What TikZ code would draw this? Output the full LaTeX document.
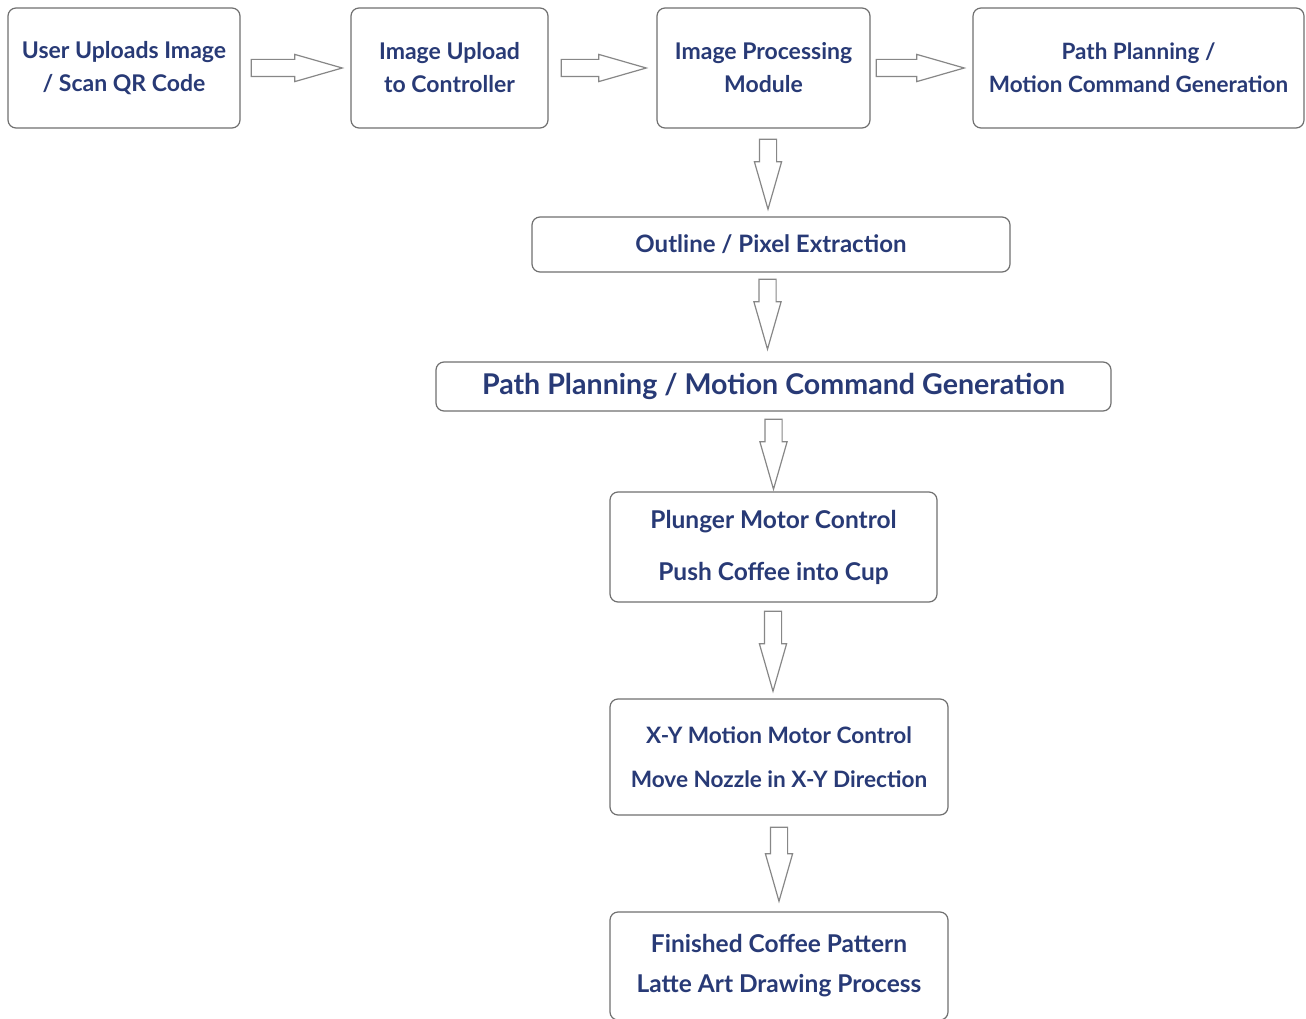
\documentclass[tikz,border=0pt]{standalone}
\usepackage{fontspec}
\setmainfont{Lato}
\usetikzlibrary{shapes.arrows, positioning, calc}
\definecolor{inkblue}{RGB}{40, 58, 118}
\definecolor{boxgray}{RGB}{112, 112, 112}
\definecolor{arrowgray}{RGB}{135, 135, 135}

\tikzset{
  stepbox/.style={draw=boxgray, line width=1.2pt, rounded corners=8pt, fill=white,
    text=inkblue, align=center, font=\fontsize{23}{33}\selectfont\bfseries},
  flowarrow/.style={single arrow, draw=arrowgray, line width=1.2pt, fill=white,
    inner xsep=0pt, inner ysep=8pt, single arrow head extend=5pt,
    single arrow tip angle=32, anchor=tip}
}

\begin{document}
\begin{tikzpicture}[x=1pt, y=-1pt]
    \useasboundingbox (0, 0) rectangle (1306, 1019);

    % Top row
    \node[stepbox, minimum width=232pt, minimum height=120pt] (upload) at (124, 68) {User Uploads Image\\ / Scan QR Code};
    \node[stepbox, minimum width=197pt, minimum height=120pt] (ctrl) at (449.5, 68) {Image Upload\\to Controller};
    \node[stepbox, minimum width=213pt, minimum height=120pt] (proc) at (763.5, 68) {Image Processing\\Module};
    \node[stepbox, minimum width=331pt, minimum height=120pt, font=\fontsize{22.5}{33}\selectfont\bfseries] (plantop) at (1138.5, 68) {Path Planning /\\Motion Command Generation};

    % Main column
    \node[stepbox, minimum width=478pt, minimum height=55pt, font=\fontsize{24}{33}\selectfont\bfseries] (outline) at (771, 244.5) {Outline / Pixel Extraction};
    \node[stepbox, minimum width=675pt, minimum height=49pt, font=\fontsize{28.6}{33}\selectfont\bfseries] (plan) at (773.5, 386.5) {Path Planning / Motion Command Generation};
    \node[stepbox, minimum width=327pt, minimum height=110pt, font=\fontsize{24.5}{30}\selectfont\bfseries] (plunger) at (773.5, 547) {Plunger Motor Control\\[22pt]Push Coffee into Cup};
    \node[stepbox, minimum width=338pt, minimum height=116pt, font=\fontsize{22.6}{30}\selectfont\bfseries] (xy) at (779, 757) {X-Y Motion Motor Control\\[14pt]Move Nozzle in X-Y Direction};
    \node[stepbox, minimum width=338pt, minimum height=108pt, font=\fontsize{24.5}{40}\selectfont\bfseries] (done) at (779, 966) {Finished Coffee Pattern\\Latte Art Drawing Process};

    % Block arrows between the steps
    \node[flowarrow, minimum height=91pt] (a1) at ($(ctrl.west)+(-6, 0)$) {};
    \node[flowarrow, minimum height=85pt] (a2) at ($(proc.west)+(-8, 0)$) {};
    \node[flowarrow, minimum height=88pt] (a3) at ($(plantop.west)+(-6, 0)$) {};
    \node[flowarrow, minimum height=70pt, rotate=-90] (a4) at ($(outline.north)+(-3, -5)$) {};
    \node[flowarrow, minimum height=70pt, rotate=-90] (a5) at ($(plan.north)+(-6, -10)$) {};
    \node[flowarrow, minimum height=70pt, rotate=-90] (a6) at ($(plunger.north)+(0, 0)$) {};
    \node[flowarrow, minimum height=80pt, rotate=-90] (a7) at ($(xy.north)+(-6, -5)$) {};
    \node[flowarrow, minimum height=74pt, rotate=-90] (a8) at ($(done.north)+(0, -8)$) {};
\end{tikzpicture}
\end{document}
